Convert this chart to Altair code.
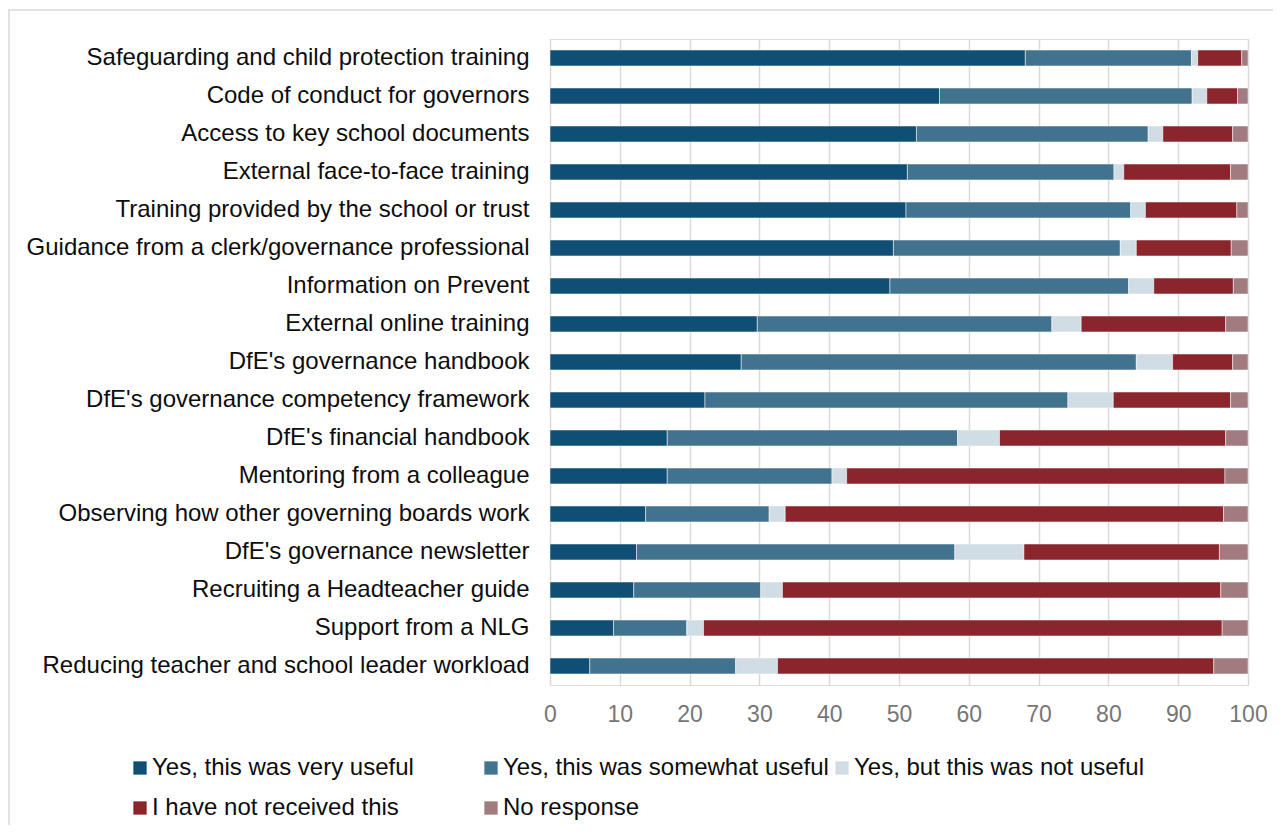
import altair as alt
import pandas as pd

categories = [
    "Safeguarding and child protection training",
    "Code of conduct for governors",
    "Access to key school documents",
    "External face-to-face training",
    "Training provided by the school or trust",
    "Guidance from a clerk/governance professional",
    "Information on Prevent",
    "External online training",
    "DfE's governance handbook",
    "DfE's governance competency framework",
    "DfE's financial handbook",
    "Mentoring from a colleague",
    "Observing how other governing boards work",
    "DfE's governance newsletter",
    "Recruiting a Headteacher guide",
    "Support from a NLG",
    "Reducing teacher and school leader workload",
]

series = [
    "Yes, this was very useful",
    "Yes, this was somewhat useful",
    "Yes, but this was not useful",
    "I have not received this",
    "No response",
]

very_useful = [68.1, 55.8, 52.5, 51.2, 51.0, 49.2, 48.7, 29.7, 27.4, 22.2, 16.8, 16.8, 13.7, 12.4, 12.0, 9.1, 5.7]
somewhat_useful = [23.8, 36.2, 33.2, 29.6, 32.2, 32.5, 34.2, 42.2, 56.6, 52.0, 41.6, 23.6, 17.7, 45.6, 18.2, 10.5, 20.9]
not_useful = [0.9, 2.1, 2.1, 1.4, 2.1, 2.3, 3.6, 4.2, 5.2, 6.5, 6.0, 2.1, 2.3, 9.9, 3.1, 2.4, 6.0]
not_received = [6.3, 4.4, 10.0, 15.3, 13.1, 13.6, 11.4, 20.7, 8.6, 16.8, 32.4, 54.2, 62.8, 28.0, 62.8, 74.3, 62.5]
no_response = [0.9, 1.5, 2.2, 2.5, 1.6, 2.4, 2.1, 3.2, 2.2, 2.5, 3.2, 3.3, 3.5, 4.1, 3.9, 3.7, 4.9]

colors = ["#104F75", "#41738F", "#D0DDE5", "#8A252B", "#A27B7F"]
x_ticks = [0, 10, 20, 30, 40, 50, 60, 70, 80, 90, 100]

all_values = [very_useful, somewhat_useful, not_useful, not_received, no_response]
rows = []
for si, (s, vals) in enumerate(zip(series, all_values)):
    for c, v in zip(categories, vals):
        rows.append({"category": c, "response": s, "order": si, "value": v})
df = pd.DataFrame(rows)

FONT = "Arial, Liberation Sans, sans-serif"

bars = alt.Chart(df).mark_bar(stroke="#ffffff", strokeWidth=0.5).encode(
    x=alt.X(
        "value:Q",
        stack="zero",
        scale=alt.Scale(domain=[0, 100], nice=False),
        axis=alt.Axis(
            title=None,
            values=x_ticks,
            grid=True,
            gridColor="#D9D9D9",
            gridWidth=1.5,
            ticks=False,
            tickSize=0,
            domain=False,
            labelFlush=False,
            labelFontSize=23,
            labelColor="#767676",
            labelPadding=18,
            labelFont=FONT,
        ),
    ),
    y=alt.Y(
        "category:N",
        sort=categories,
        scale=alt.Scale(paddingInner=0.58, paddingOuter=0.29),
        axis=alt.Axis(
            title=None,
            ticks=False,
            domain=False,
            grid=False,
            labelFontSize=24,
            labelColor="#0D0D0D",
            labelPadding=21,
            labelLimit=0,
            labelFont=FONT,
        ),
    ),
    color=alt.Color(
        "response:N",
        scale=alt.Scale(domain=series, range=colors),
        legend=alt.Legend(
            title=None,
            orient="none",
            direction="horizontal",
            legendX=-422,
            legendY=717,
            columns=3,
            gridAlign="all",
            columnPadding=1,
            rowPadding=16,
            symbolType="square",
            symbolSize=177,
            symbolStrokeWidth=0,
            labelFontSize=24,
            labelColor="#0D0D0D",
            labelLimit=0,
            labelOffset=0,
            labelFont=FONT,
        ),
    ),
    order=alt.Order("order:Q"),
)

frame = alt.Chart(alt.Data(values=[{"f": 1}])).mark_rect(
    fill=None, stroke="#D9D9D9", strokeWidth=1.5
).encode(
    x=alt.value(-541),
    x2=alt.value(900),
    y=alt.value(-29),
    y2=alt.value(900),
)

chart = alt.layer(frame, bars).properties(
    width=698,
    height=646,
    autosize=alt.AutoSizeParams(type="none"),
    padding={"left": 542, "top": 31, "right": 25, "bottom": 140},
).configure_view(stroke=None).configure(font=FONT)

chart.save("out.html", embed_options={"renderer": "svg", "actions": False})
